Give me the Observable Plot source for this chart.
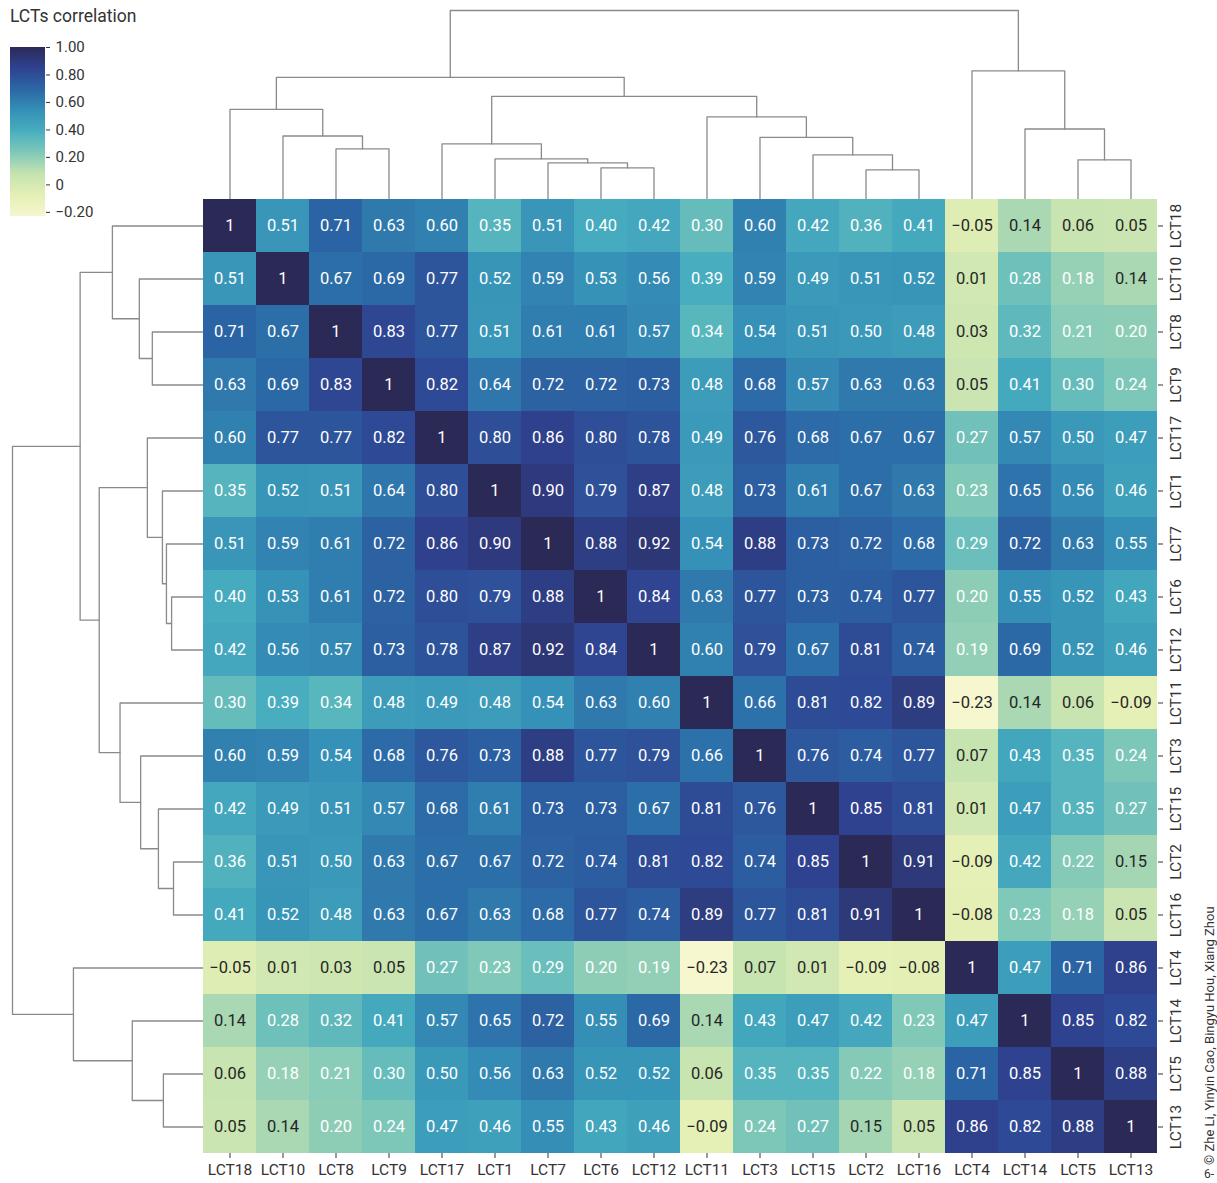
<!DOCTYPE html>
<html><head><meta charset="utf-8">
<script src="https://cdn.jsdelivr.net/npm/d3@7"></script>
<script src="https://cdn.jsdelivr.net/npm/@observablehq/plot@0.6"></script>
<style>
body{margin:0;background:#fff;font-family:Roboto,"DejaVu Sans",sans-serif;}
#chart{position:relative;width:1217px;height:1183px;overflow:hidden;}
#chart svg{position:absolute;left:0;top:0;}
.lbl{position:absolute;white-space:nowrap;color:#333;font-family:Roboto,sans-serif;}
</style></head><body><div id="chart"></div>
<script>
// ---- data ----
const order = ["LCT18","LCT10","LCT8","LCT9","LCT17","LCT1","LCT7","LCT6","LCT12","LCT11","LCT3","LCT15","LCT2","LCT16","LCT4","LCT14","LCT5","LCT13"];
const LCT18 = [1,0.51,0.71,0.63,0.60,0.35,0.51,0.40,0.42,0.30,0.60,0.42,0.36,0.41,-0.05,0.14,0.06,0.05];
const LCT10 = [0.51,1,0.67,0.69,0.77,0.52,0.59,0.53,0.56,0.39,0.59,0.49,0.51,0.52,0.01,0.28,0.18,0.14];
const LCT8  = [0.71,0.67,1,0.83,0.77,0.51,0.61,0.61,0.57,0.34,0.54,0.51,0.50,0.48,0.03,0.32,0.21,0.20];
const LCT9  = [0.63,0.69,0.83,1,0.82,0.64,0.72,0.72,0.73,0.48,0.68,0.57,0.63,0.63,0.05,0.41,0.30,0.24];
const LCT17 = [0.60,0.77,0.77,0.82,1,0.80,0.86,0.80,0.78,0.49,0.76,0.68,0.67,0.67,0.27,0.57,0.50,0.47];
const LCT1  = [0.35,0.52,0.51,0.64,0.80,1,0.90,0.79,0.87,0.48,0.73,0.61,0.67,0.63,0.23,0.65,0.56,0.46];
const LCT7  = [0.51,0.59,0.61,0.72,0.86,0.90,1,0.88,0.92,0.54,0.88,0.73,0.72,0.68,0.29,0.72,0.63,0.55];
const LCT6  = [0.40,0.53,0.61,0.72,0.80,0.79,0.88,1,0.84,0.63,0.77,0.73,0.74,0.77,0.20,0.55,0.52,0.43];
const LCT12 = [0.42,0.56,0.57,0.73,0.78,0.87,0.92,0.84,1,0.60,0.79,0.67,0.81,0.74,0.19,0.69,0.52,0.46];
const LCT11 = [0.30,0.39,0.34,0.48,0.49,0.48,0.54,0.63,0.60,1,0.66,0.81,0.82,0.89,-0.23,0.14,0.06,-0.09];
const LCT3  = [0.60,0.59,0.54,0.68,0.76,0.73,0.88,0.77,0.79,0.66,1,0.76,0.74,0.77,0.07,0.43,0.35,0.24];
const LCT15 = [0.42,0.49,0.51,0.57,0.68,0.61,0.73,0.73,0.67,0.81,0.76,1,0.85,0.81,0.01,0.47,0.35,0.27];
const LCT2  = [0.36,0.51,0.50,0.63,0.67,0.67,0.72,0.74,0.81,0.82,0.74,0.85,1,0.91,-0.09,0.42,0.22,0.15];
const LCT16 = [0.41,0.52,0.48,0.63,0.67,0.63,0.68,0.77,0.74,0.89,0.77,0.81,0.91,1,-0.08,0.23,0.18,0.05];
const LCT4  = [-0.05,0.01,0.03,0.05,0.27,0.23,0.29,0.20,0.19,-0.23,0.07,0.01,-0.09,-0.08,1,0.47,0.71,0.86];
const LCT14 = [0.14,0.28,0.32,0.41,0.57,0.65,0.72,0.55,0.69,0.14,0.43,0.47,0.42,0.23,0.47,1,0.85,0.82];
const LCT5  = [0.06,0.18,0.21,0.30,0.50,0.56,0.63,0.52,0.52,0.06,0.35,0.35,0.22,0.18,0.71,0.85,1,0.88];
const LCT13 = [0.05,0.14,0.20,0.24,0.47,0.46,0.55,0.43,0.46,-0.09,0.24,0.27,0.15,0.05,0.86,0.82,0.88,1];
const matrix = [LCT18,LCT10,LCT8,LCT9,LCT17,LCT1,LCT7,LCT6,LCT12,LCT11,LCT3,LCT15,LCT2,LCT16,LCT4,LCT14,LCT5,LCT13];

// hierarchical clustering merges (numbers refer to earlier merges), heights normalised to the top merge
const mergeA = ["LCT6","LCT7","LCT1","LCT17","LCT8","LCT10","LCT18","LCT2","LCT15","LCT3","LCT11",3,6,"LCT5","LCT14","LCT4",12];
const mergeB = ["LCT12",0,1,2,"LCT9",4,5,"LCT16",7,8,9,10,11,"LCT13",13,14,15];
const mergeH = [0.167,0.194,0.215,0.294,0.268,0.336,0.477,0.157,0.236,0.329,0.437,0.546,0.646,0.210,0.373,0.681,1.0];

const colorTicks = [1,0.8,0.6,0.4,0.2,0,-0.2];
const colorDomain = [-0.23, 1];
const palette = ["#f6f6cf","#e3efb4","#c5e3b0","#7fc8b8","#48aebf","#3591b7","#2b68a6","#2f4391","#2b2a57"];

// ---- derived ----
const cells = [];
order.forEach((r,i)=>order.forEach((c,j)=>cells.push({row:r,col:c,v:matrix[i][j]})));
const fmt = v => v === 1 ? "1" : d3.format(".2f")(v);
const interp = d3.piecewise(d3.interpolateRgb, palette);
const textColor = v => v < 0.155 ? "#262626" : "#ffffff";

const pos = new Map(order.map((d,i)=>[d,i]));
const nodes = [], segs = [];
mergeA.forEach((a,i)=>{
  const b = mergeB[i], h = mergeH[i];
  const A = typeof a === "number" ? nodes[a] : {x:pos.get(a), h:0};
  const B = typeof b === "number" ? nodes[b] : {x:pos.get(b), h:0};
  const [L,R] = A.x < B.x ? [A,B] : [B,A];
  segs.push({id:i,p:L.x,h:L.h},{id:i,p:L.x,h},{id:i,p:R.x,h},{id:i,p:R.x,h:R.h});
  nodes.push({x:(A.x+B.x)/2,h});
});

const chart = document.getElementById("chart");
const baseStyle = {background:"transparent", overflow:"visible", fontFamily:"Roboto, sans-serif"};
const lineStroke = "#8a8a8a";

// top dendrogram
const topDendro = Plot.plot({
  width:1217, height:199, marginLeft:203, marginRight:60, marginTop:10, marginBottom:0,
  style:baseStyle,
  x:{type:"linear", domain:[-0.5,17.5], axis:null},
  y:{domain:[0,1], axis:null},
  marks:[Plot.line(segs,{x:"p",y:"h",z:"id",stroke:lineStroke,strokeWidth:1.3})]
});
chart.appendChild(topDendro);

// left dendrogram
const leftDendro = Plot.plot({
  width:203, height:1183, marginLeft:12, marginRight:0, marginTop:199, marginBottom:30,
  style:baseStyle,
  x:{domain:[1,0], axis:null},
  y:{type:"linear", domain:[17.5,-0.5], axis:null},
  marks:[Plot.line(segs,{x:"h",y:"p",z:"id",stroke:lineStroke,strokeWidth:1.3})]
});
chart.appendChild(leftDendro);

// heatmap
const heat = Plot.plot({
  width:1217, height:1183, marginLeft:203, marginRight:60, marginTop:199, marginBottom:30,
  style:{...baseStyle, fontSize:"15.5px", color:"#333"},
  x:{type:"band", domain:order, padding:0, label:null},
  y:{type:"band", domain:order, padding:0, label:null},
  color:{type:"linear", domain:colorDomain, interpolate:interp},
  marks:[
    Plot.cell(cells,{x:"col",y:"row",fill:"v",inset:0,shapeRendering:"crispEdges"}),
    Plot.text(cells,{x:"col",y:"row",text:d=>fmt(d.v),fill:d=>textColor(d.v),fontSize:16.5}),
    Plot.axisX({anchor:"bottom",tickSize:5,tickPadding:5,fontSize:15.5,label:null}),
    Plot.axisY({anchor:"right",tickSize:5,tickFormat:()=>"",label:null}),
    Plot.text(order,{y:d=>d,frameAnchor:"right",dx:19,rotate:-90,textAnchor:"middle",lineAnchor:"middle",fontSize:15.5,fill:"#333"})
  ]
});
chart.appendChild(heat);

// colour bar
const nSteps = 170;
const steps = d3.range(0,nSteps).map(i=>{
  const s = (colorDomain[1]-colorDomain[0])/nSteps;
  const y1 = colorDomain[0]+i*s;
  return {y1, y2:Math.min(colorDomain[1], y1+s*1.6), v:y1+s/2};
});
const bar = Plot.plot({
  width:200, height:230, marginLeft:10, marginRight:155, marginTop:47, marginBottom:14,
  style:{...baseStyle, color:"#333"},
  x:{axis:null},
  y:{domain:colorDomain, label:null},
  color:{type:"linear", domain:colorDomain, interpolate:interp},
  marks:[
    Plot.rect(steps,{y1:"y1",y2:"y2",fill:"v",shapeRendering:"crispEdges"}),
    Plot.axisY({anchor:"right",ticks:colorTicks,tickSize:4,tickPadding:6,fontSize:15,label:null,
      tickFormat:d=>d===0?"0":d3.format(".2f")(d)})
  ]
});
chart.appendChild(bar);

// texts
function addLabel(txt, css){
  const d = document.createElement("div");
  d.className = "lbl"; d.textContent = txt;
  Object.assign(d.style, css);
  chart.appendChild(d);
}
addLabel("LCTs correlation",{left:"10px",top:"6px",fontSize:"17.5px",lineHeight:"20px"});
addLabel("© Zhe Li, Yinyin Cao, Bingyu Hou, Xiang Zhou",{left:"1202px",top:"1165px",fontSize:"13px",lineHeight:"15px",transformOrigin:"0 0",transform:"rotate(-90deg)"});
addLabel("6-",{left:"1204px",top:"1167px",fontSize:"12px",lineHeight:"14px"});
</script></body></html>
